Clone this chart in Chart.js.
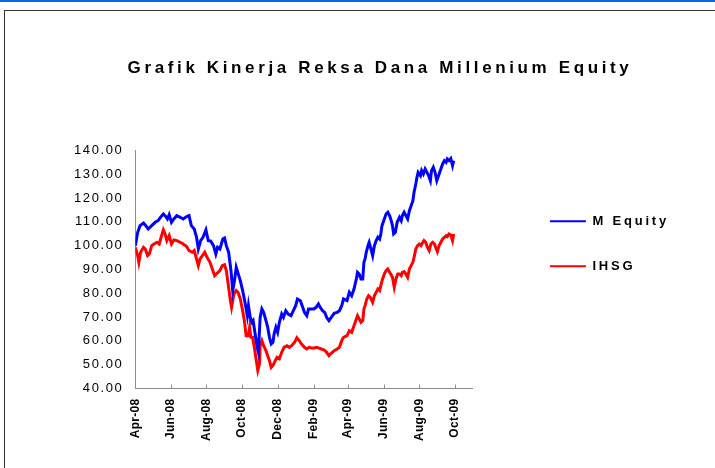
<!DOCTYPE html>
<html>
<head>
<meta charset="utf-8">
<title>Grafik Kinerja Reksa Dana Millenium Equity</title>
<script src="https://cdn.jsdelivr.net/npm/chart.js@4.4.1/dist/chart.umd.min.js"></script>
<style>
  html, body { margin: 0; padding: 0; background: #fff; }
  .page { position: relative; width: 715px; height: 468px; overflow: hidden; }
  .topline { position: absolute; left: 0; top: 0; width: 715px; height: 2px; background: #0a66ee; }
  .frame { position: absolute; left: 4px; top: 10px; width: 800px; height: 600px; border-left: 1px solid #333; border-top: 1px solid #333; }
  #chart { position: absolute; left: 0; top: 0; }
</style>
</head>
<body>
<div class="page">
  <div class="topline"></div>
  <div class="frame"></div>
  <canvas id="chart" width="715" height="468"></canvas>
</div>
<script>
// Axis labels (every 2 months) and where the date axis starts / ends
const tickLabels = ['Apr-08', 'Jun-08', 'Aug-08', 'Oct-08', 'Dec-08', 'Feb-09', 'Apr-09', 'Jun-09', 'Aug-09', 'Oct-09'];
const tickDates = ['2008-04-01', '2008-06-01', '2008-08-01', '2008-10-01', '2008-12-01', '2009-02-01', '2009-04-01', '2009-06-01', '2009-08-01', '2009-10-01'];
const axisStart = '2008-04-01';
const axisEnd = '2009-11-01';

// M Equity - days counted from 1 Apr 2008, index values
const eqDays = [0, 4, 8, 14, 18, 22, 28, 34, 39, 43, 48, 51, 55, 58, 62, 66, 71, 77, 82, 88, 92, 96, 101, 105, 108, 112, 116, 121, 125, 129, 134, 138, 141, 145, 150, 153, 156, 160, 164, 167, 170, 173,
  180, 184, 188, 192, 194, 197, 200, 202, 205, 209, 211, 214, 217, 220, 224, 227, 230, 233, 236, 238, 241, 244, 247, 251, 254, 258, 262, 267, 271, 275, 278, 283, 287, 290, 294, 297, 301, 306, 310, 314, 317, 321, 325, 328, 332, 336, 341, 346, 350, 354, 357,
  363, 367, 371, 375, 379, 381, 384, 387, 390, 392, 394, 396, 399, 401, 404, 407, 410, 413, 416, 419, 421, 423, 426, 430, 433, 436, 438, 441, 443, 446, 449, 453, 456, 458, 461, 464, 467, 470, 473, 476, 478, 481, 483, 485, 489, 491, 494, 497, 500, 503, 506, 508, 511, 514, 517, 520, 524, 527, 530, 533, 535, 538, 541, 544, 546];
const eqValues = [100.0, 105.6, 108.4, 109.5, 108.4, 107.0, 108.4, 109.8, 110.5, 111.9, 113.3, 112.6, 111.2, 113.0, 109.8, 111.2, 112.6, 111.9, 111.2, 112.2, 112.6, 108.4, 107.0, 103.5, 98.6, 102.1, 103.5, 106.6, 102.1, 102.0, 100.0, 96.5, 99.3, 98.6, 102.8, 103.2, 100.0, 97.2, 89.5, 81.1, 85.3, 90.9,
  85.3, 81.1, 76.2, 70.6, 74.8, 69.9, 67.8, 68.5, 63.6, 57.3, 55.2, 69.9, 73.4, 72.0, 68.5, 65.7, 61.5, 58.7, 59.4, 63.0, 65.7, 63.6, 67.8, 71.3, 69.9, 72.7, 71.3, 70.6, 72.7, 74.8, 77.6, 76.9, 74.1, 72.0, 70.6, 73.4, 73.4, 73.4, 74.1, 75.5, 74.1, 72.7, 71.9, 69.9, 68.5, 69.9, 71.6, 72.0, 72.7, 74.8, 77.6,
  76.9, 80.4, 79.0, 81.8, 86.0, 88.8, 88.1, 86.0, 86.0, 93.0, 94.4, 97.2, 100.0, 101.4, 98.6, 95.8, 100.0, 102.1, 103.5, 102.8, 104.9, 108.4, 110.5, 113.3, 114.0, 112.6, 111.2, 108.4, 104.9, 105.6, 109.8, 111.9, 110.5, 112.6, 114.0, 112.6, 111.2, 114.7, 116.8, 118.9, 122.4, 125.9, 128.7, 130.8, 129.4, 131.5, 130.1, 132.2, 130.8, 129.4, 127.3, 131.5, 132.9, 130.8, 127.3, 129.4, 132.2, 134.3, 135.7, 135.0, 136.4, 135.7, 136.6, 133.6, 135.7];

// IHSG - days counted from 1 Apr 2008, index values
const ihsgDays = [0, 4, 6, 9, 14, 17, 21, 24, 28, 32, 37, 41, 45, 48, 51, 54, 58, 62, 66, 71, 77, 82, 88, 92, 98, 101, 105, 108, 111, 115, 119, 123, 128, 132, 136, 140, 145, 149, 153, 156, 160, 163, 165, 169, 173,
  176, 180, 184, 187, 190, 194, 196, 198, 201, 204, 207, 210, 213, 214, 217, 220, 224, 227, 230, 233, 236, 240, 243, 247, 251, 255, 260, 264, 268, 273, 277, 281, 285, 290, 294, 298, 302, 307, 311, 315, 319, 324, 328, 332, 336, 341, 346, 350, 354, 357,
  363, 367, 371, 375, 379, 381, 384, 387, 390, 392, 394, 397, 400, 403, 407, 410, 413, 416, 419, 421, 424, 427, 430, 433, 436, 438, 441, 444, 447, 450, 453, 456, 458, 461, 464, 467, 470, 473, 476, 478, 481, 484, 487, 490, 493, 495, 498, 501, 504, 507, 510, 513, 515, 518, 521, 524, 527, 530, 533, 535, 538, 541, 544, 546];
const ihsgValues = [99.3, 95.8, 93.0, 97.2, 99.3, 98.6, 95.8, 96.5, 100.0, 100.7, 101.4, 100.7, 104.2, 106.6, 104.9, 102.1, 104.2, 100.7, 102.4, 102.1, 101.4, 100.7, 99.6, 97.9, 97.2, 97.9, 94.4, 91.6, 94.4, 95.8, 97.2, 95.1, 93.0, 90.2, 87.4, 88.4, 89.5, 91.6, 92.0, 89.5, 82.5, 76.9, 74.1, 79.7, 81.1,
  80.4, 77.6, 72.7, 68.5, 62.2, 62.2, 65.7, 61.5, 61.5, 57.3, 52.5, 47.6, 50.4, 58.0, 60.1, 58.0, 55.9, 53.8, 51.7, 48.9, 49.7, 51.7, 53.1, 52.5, 55.2, 57.3, 58.0, 57.3, 58.0, 59.4, 61.3, 60.1, 58.7, 57.3, 56.6, 57.3, 57.0, 57.0, 57.3, 57.0, 56.6, 56.2, 55.2, 53.8, 54.8, 55.9, 56.6, 57.3, 60.1, 61.5,
  62.2, 64.3, 63.6, 66.4, 69.2, 70.6, 69.2, 67.8, 68.5, 73.4, 74.8, 77.6, 79.0, 78.3, 76.2, 79.0, 80.4, 81.8, 81.1, 83.2, 86.0, 88.1, 89.5, 90.2, 88.8, 88.1, 86.7, 82.5, 86.0, 88.1, 88.1, 87.4, 88.8, 89.1, 88.1, 86.7, 90.2, 91.6, 93.0, 95.1, 98.6, 100.0, 100.7, 100.0, 101.4, 102.1, 101.4, 99.3, 97.9, 100.7, 101.4, 100.7, 99.3, 97.5, 100.0, 101.4, 102.8, 103.5, 104.2, 103.8, 104.9, 104.5, 102.1, 104.9];

const FONT = '"Liberation Sans", Arial, sans-serif';

function dayOf(date) {
  return Math.round((Date.parse(date) - Date.parse(axisStart)) / 86400000);
}
const tickDays = tickDates.map(dayOf);

function toPoints(days, values) {
  return days.map((d, i) => ({ x: d, y: values[i] }));
}

// The old Excel picture has wide letter spacing; pick it from the current font
function spacingFor(font) {
  const size = parseFloat((font.match(/([\d.]+)px/) || [0, 12])[1]);
  const bold = /bold|700/.test(font);
  if (size >= 16) return '3.63px';
  if (bold && size >= 13) return '2.8px';
  if (!bold) return '1.6px';
  return '0.3px';
}

const letterSpacing = {
  id: 'letterSpacing',
  beforeInit(chart) {
    const ctx = chart.ctx;
    const fill = ctx.fillText.bind(ctx);
    const measure = ctx.measureText.bind(ctx);
    ctx.fillText = function (text, x, y, maxWidth) {
      ctx.letterSpacing = spacingFor(ctx.font);
      return maxWidth === undefined ? fill(text, x, y) : fill(text, x, y, maxWidth);
    };
    ctx.measureText = function (text) {
      ctx.letterSpacing = spacingFor(ctx.font);
      return measure(text);
    };
  }
};

// The original chart object is wider than the cropped picture, so its
// title sits a little right of the canvas centre
const titleShift = {
  id: 'titleShift',
  afterLayout(chart) {
    chart.titleBlock.left += 19;
  }
};

// Excel style tick marks pointing into the plot
const innerTicks = {
  id: 'innerTicks',
  afterDatasetsDraw(chart) {
    const { ctx, chartArea } = chart;
    const x = chart.scales.x;
    ctx.save();
    ctx.strokeStyle = '#8c8c8c';
    ctx.lineWidth = 1;
    ctx.beginPath();
    x.ticks.forEach(t => {
      const px = Math.round(x.getPixelForValue(t.value)) + 0.5;
      ctx.moveTo(px, chartArea.bottom);
      ctx.lineTo(px, chartArea.bottom - 4);
    });
    ctx.stroke();
    ctx.restore();
  }
};

new Chart(document.getElementById('chart'), {
  type: 'line',
  data: {
    datasets: [
      {
        label: 'M Equity',
        data: toPoints(eqDays, eqValues),
        borderColor: '#0000ff',
        backgroundColor: '#0000ff',
        borderWidth: 3,
        pointRadius: 0,
        tension: 0
      },
      {
        label: 'IHSG',
        data: toPoints(ihsgDays, ihsgValues),
        borderColor: '#ff0000',
        backgroundColor: '#ff0000',
        borderWidth: 3,
        pointRadius: 0,
        tension: 0
      }
    ]
  },
  options: {
    responsive: false,
    animation: false,
    layout: { padding: { left: 62, right: 36, top: 0, bottom: 17 } },
    plugins: {
      tooltip: { enabled: false },
      title: {
        display: true,
        text: 'Grafik Kinerja Reksa Dana Millenium Equity',
        color: '#000',
        font: { family: FONT, size: 17, weight: 'bold', lineHeight: 1.2 },
        padding: { top: 58, bottom: 72 }
      },
      legend: {
        position: 'right',
        align: 'start',
        fullSize: false,
        maxWidth: 220,
        title: { display: true, text: '', font: { size: 12, lineHeight: 1.2 }, padding: { top: 18, bottom: 0 } },
        labels: {
          boxWidth: 36,
          boxHeight: 2,
          padding: 32,
          color: '#000',
          font: { family: FONT, size: 13, weight: 'bold' },
          generateLabels(chart) {
            return Chart.defaults.plugins.legend.labels.generateLabels(chart)
              .map(item => Object.assign(item, { lineWidth: 0 }));
          }
        }
      }
    },
    scales: {
      x: {
        type: 'linear',
        min: 0,
        max: dayOf(axisEnd),
        afterBuildTicks(scale) {
          scale.ticks = tickDays.map(v => ({ value: v }));
        },
        grid: { display: false, drawTicks: false },
        border: { display: true, color: '#8c8c8c', width: 1 },
        ticks: {
          autoSkip: false,
          minRotation: 90,
          maxRotation: 90,
          padding: 10,
          color: '#000',
          font: { family: FONT, size: 12, weight: 'bold' },
          callback: value => tickLabels[tickDays.indexOf(value)]
        }
      },
      y: {
        min: 40,
        max: 140,
        grid: { display: false, drawTicks: false },
        border: { display: true, color: '#8c8c8c', width: 1 },
        ticks: {
          stepSize: 10,
          padding: 12,
          color: '#000',
          font: { family: FONT, size: 13 },
          callback: value => value.toFixed(2)
        }
      },
      // empty right-hand axis: keeps the gap between plot and legend
      gap: {
        position: 'right',
        display: true,
        grid: { display: false },
        border: { display: false },
        ticks: { display: false },
        afterFit(scale) { scale.width = 45; }
      }
    }
  },
  plugins: [letterSpacing, titleShift, innerTicks]
});
</script>
</body>
</html>
